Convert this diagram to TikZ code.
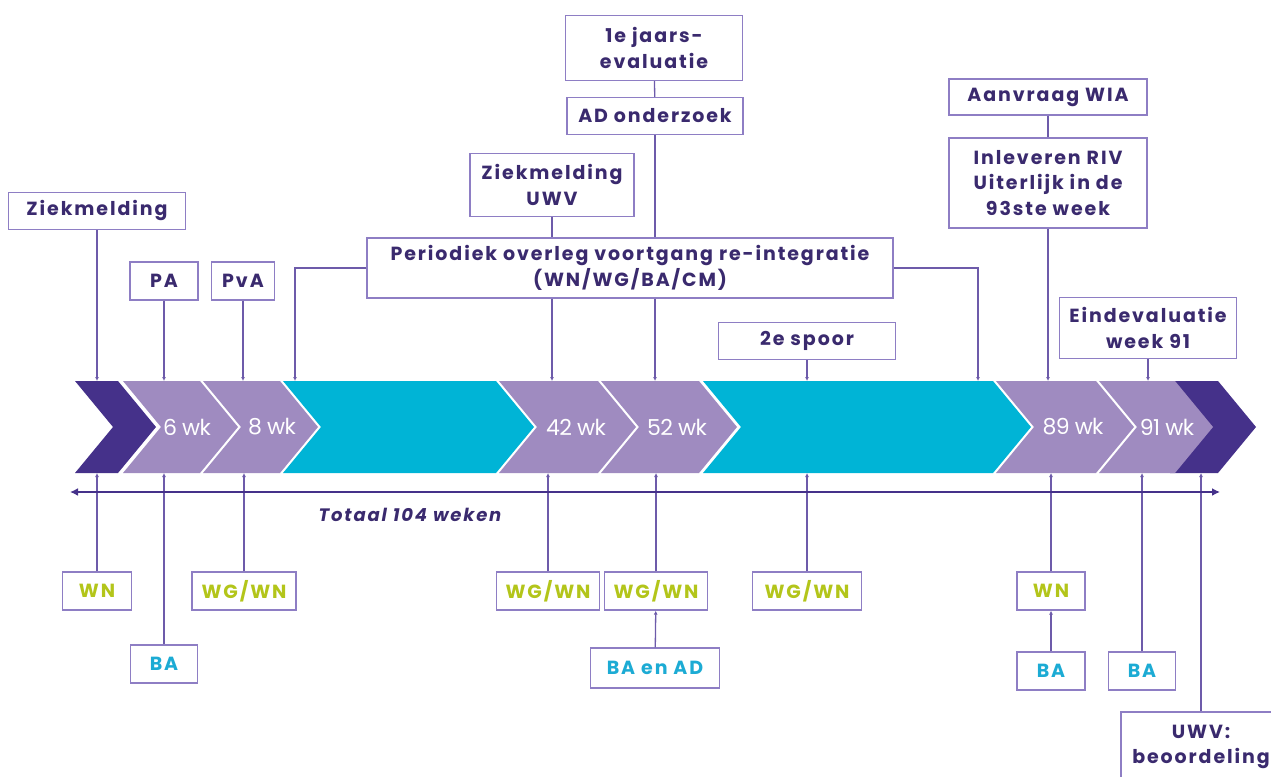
\documentclass[tikz,border=0pt]{standalone}
\usepackage{fontspec}
\usetikzlibrary{arrows.meta}
\newfontfamily\evtfont[LetterSpace=10]{Poppins}
\newfontfamily\wkfont[LetterSpace=-3]{Poppins}
\definecolor{dkp}{HTML}{45318A}
\definecolor{ltp}{HTML}{9F8BC0}
\definecolor{cyn}{HTML}{00B4D6}
\definecolor{ink}{HTML}{3A2A6E}
\definecolor{frm}{HTML}{8E7EC4}
\definecolor{lnk}{HTML}{6D5BAA}
\definecolor{grn}{HTML}{B3C51A}
\definecolor{blu}{HTML}{1CABD4}

\begin{document}
\begin{tikzpicture}[x=1pt,y=-1pt,declare function={d=38;t=381;b=473;m=427;},
	evt/.style={draw=frm, line width=1.3pt, fill=white, text=ink, align=center, inner sep=0pt, font=\evtfont\bfseries\fontsize{19}{25.5}\selectfont},
	wn/.style={evt, text=grn, minimum height=38pt},
	ba/.style={evt, text=blu, minimum height=38pt},
	wk/.style={text=white, font=\wkfont\fontsize{22}{26}\selectfont},
	line/.style={draw=lnk, line width=1.3pt},
	link/.style={line, -{Latex[length=4pt,width=4pt]}}]
			\useasboundingbox (0,0) rectangle (1271,776);
			\clip (0,0) rectangle (1271,776);
			% band of chevrons
			\coordinate (bandtop) at (0,t);
			\coordinate (bandbot) at (0,b);
			\fill[dkp] (1170,t) -- (1218,t) -- (1218+d,m) -- (1218,b) -- (1170,b) -- cycle;
			\fill[dkp] (75,t) -- (118,t) -- (118+d,m) -- (118,b) -- (75,b) -- (75+d,m) -- cycle;
			\fill[ltp] (123,t) -- (200,t) -- (200+d,m) -- (200,b) -- (123,b) -- (123+d,m) -- cycle;
			\fill[ltp] (203,t) -- (280,t) -- (280+d,m) -- (280,b) -- (203,b) -- (203+d,m) -- cycle;
			\fill[cyn] (283,t) -- (496,t) -- (496+d,m) -- (496,b) -- (283,b) -- (283+d,m) -- cycle;
			\fill[ltp] (499,t) -- (598,t) -- (598+d,m) -- (598,b) -- (499,b) -- (499+d,m) -- cycle;
			\fill[ltp] (601,t) -- (699,t) -- (699+d,m) -- (699,b) -- (601,b) -- (601+d,m) -- cycle;
			\fill[cyn] (703,t) -- (993,t) -- (993+d,m) -- (993,b) -- (703,b) -- (703+d,m) -- cycle;
			\fill[ltp] (996,t) -- (1096,t) -- (1096+d,m) -- (1096,b) -- (996,b) -- (996+d,m) -- cycle;
			\fill[ltp] (1099,t) -- (1175,t) -- (1175+d,m) -- (1175,b) -- (1099,b) -- (1099+d,m) -- cycle;
			\node[wk] (w6) at (187,m) {6 wk};
			\node[wk] (w8) at (272,m) {8 wk};
			\node[wk] (w42) at (576,m) {42 wk};
			\node[wk] (w52) at (677,m) {52 wk};
			\node[wk] (w89) at (1073,m) {89 wk};
			\node[wk] (w91) at (1167,m) {91 wk};
			% events above the band
			\node[evt, minimum width=177pt, minimum height=37pt] (zm) at (97,211) {Ziekmelding};
			\node[evt, minimum width=68pt, minimum height=38pt] (pa) at (164,281) {PA};
			\node[evt, minimum width=63pt, minimum height=38pt] (pva) at (243,281) {PvA};
			\node[evt, minimum width=526pt, minimum height=60pt] (per) at (630,268) {Periodiek overleg voortgang re-integratie\\(WN/WG/BA/CM)};
			\node[evt, minimum width=164pt, minimum height=63pt] (zmu) at (552,185) {Ziekmelding\\UWV};
			\node[evt, minimum width=177pt, minimum height=65pt] (jaar) at (654,48) {1e jaars-\\evaluatie};
			\node[evt, minimum width=176pt, minimum height=37pt] (ad) at (655,116) {AD onderzoek};
			\node[evt, minimum width=177pt, minimum height=37pt] (spoor) at (807,341) {2e spoor};
			\node[evt, minimum width=198pt, minimum height=36pt] (wia) at (1048,97) {Aanvraag WIA};
			\node[evt, minimum width=198pt, minimum height=90pt] (riv) at (1048,183) {Inleveren RIV\\Uiterlijk in de\\93ste week};
			\node[evt, minimum width=177pt, minimum height=61pt] (eind) at (1148,328) {Eindevaluatie\\week 91};
			\coordinate (lft) at (295,t);
			\coordinate (rgt) at (978,t);
			\draw[link] (zm) -- (zm |- bandtop);
			\draw[link] (pa) -- (pa |- bandtop);
			\draw[link] (pva) -- (pva |- bandtop);
			\draw[link] (per.west) -| (lft);
			\draw[link] (per.east) -| (rgt);
			\draw[line] (zmu) -- (zmu |- per.north);
			\draw[link] (zmu |- per.south) -- (zmu |- bandtop);
			\draw[line] (jaar) -- (ad);
			\draw[line] (ad) -- (ad |- per.north);
			\draw[link] (ad |- per.south) -- (ad |- bandtop);
			\draw[link] (spoor) -- (spoor |- bandtop);
			\draw[line] (wia) -- (riv);
			\draw[link] (riv) -- (riv |- bandtop);
			\draw[link] (eind) -- (eind |- bandtop);
			% parties below the band
			\node[wn, minimum width=69pt] (wn1) at (97,591) {WN};
			\node[ba, minimum width=67pt] (ba1) at (164,664) {BA};
			\node[wn, minimum width=104pt] (wgwn1) at (244,591) {WG/WN};
			\node[wn, minimum width=103pt] (wgwn2) at (548,591) {WG/WN};
			\node[wn, minimum width=103pt] (wgwn3) at (656,591) {WG/WN};
			\node[ba, minimum width=129pt, minimum height=40pt] (baad) at (655,668) {BA en AD};
			\node[wn, minimum width=109pt] (wgwn4) at (807,591) {WG/WN};
			\node[wn, minimum width=68pt] (wn2) at (1051,591) {WN};
			\node[ba, minimum width=68pt] (ba2) at (1051,671) {BA};
			\node[ba, minimum width=67pt] (ba3) at (1142,671) {BA};
			\node[evt, minimum width=160pt, minimum height=70pt] (uwv) at (1201,747) {UWV:\\beoordeling};
			\draw[link] (wn1) -- (wn1 |- bandbot);
			\draw[link] (ba1) -- (ba1 |- bandbot);
			\draw[link] (wgwn1) -- (wgwn1 |- bandbot);
			\draw[link] (wgwn2) -- (wgwn2 |- bandbot);
			\draw[link] (wgwn3) -- (wgwn3 |- bandbot);
			\draw[link] (baad) -- (wgwn3);
			\draw[link] (wgwn4) -- (wgwn4 |- bandbot);
			\draw[link] (wn2) -- (wn2 |- bandbot);
			\draw[link] (ba2) -- (wn2);
			\draw[link] (ba3) -- (ba3 |- bandbot);
			\draw[link] (uwv) -- (uwv |- bandbot);
			% total duration
			\coordinate (axl) at (70,492);
			\coordinate (axr) at (1220,492);
			\draw[dkp, line width=2.2pt, {Latex[length=8pt,width=8pt]}-{Latex[length=8pt,width=8pt]}] (axl) -- (axr);
			\node[text=ink, font=\evtfont\bfseries\itshape\fontsize{18}{20}\selectfont] (tot) at (410,515) {Totaal 104 weken};
		\end{tikzpicture}
\end{document}
